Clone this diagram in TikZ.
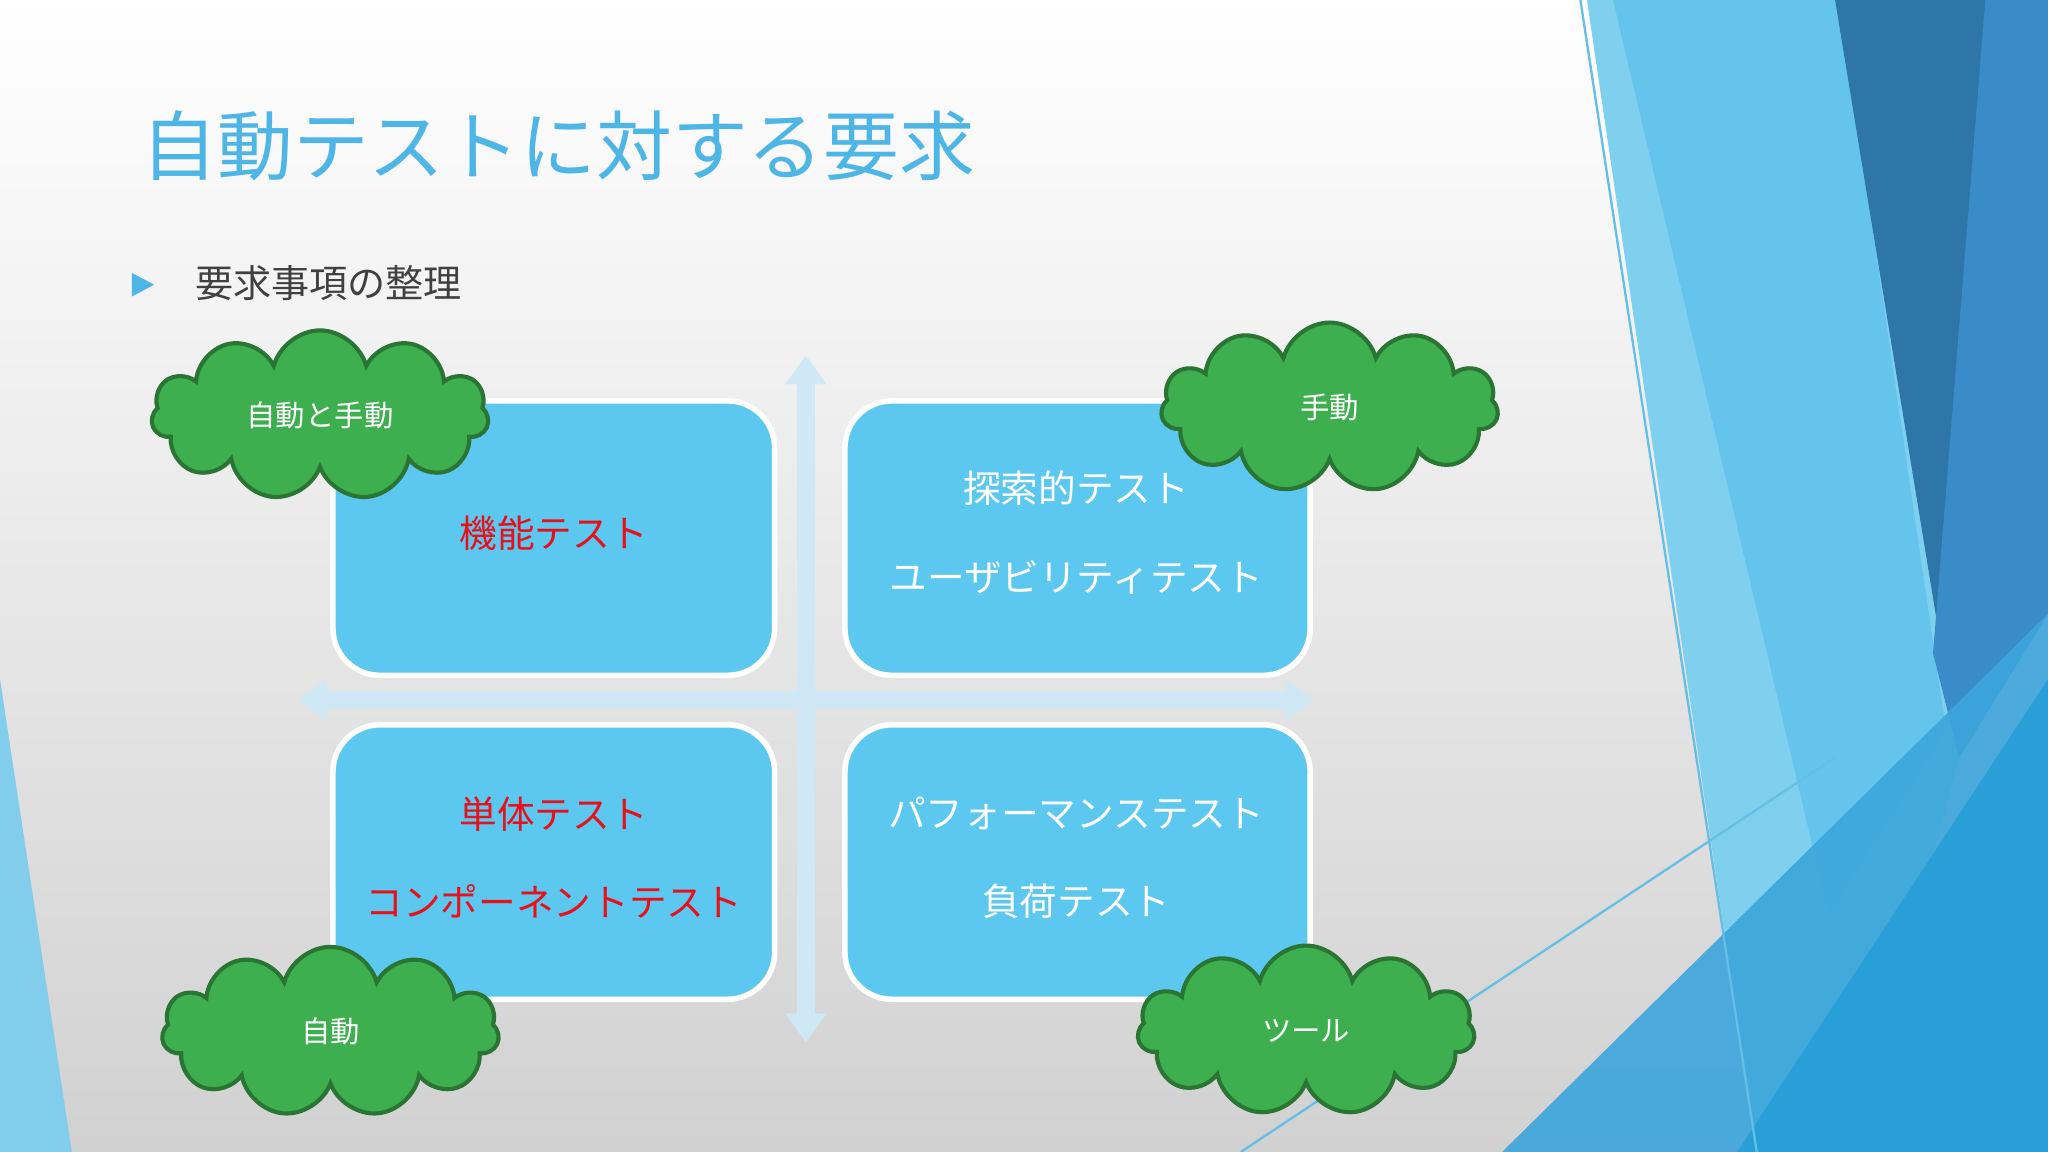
\documentclass[tikz,border=0pt]{standalone}
\usepackage{fontspec}
\setmainfont{Noto Sans CJK JP}
\usetikzlibrary{shapes.symbols,arrows.meta}
\definecolor{titleblue}{HTML}{4DB6E6}
\definecolor{boxblue}{HTML}{5CC8EF}
\definecolor{arrowpale}{HTML}{CFE8F5}
\definecolor{cloudgreen}{HTML}{3DAF4F}
\definecolor{cloudedge}{HTML}{2A7434}
\definecolor{redtext}{HTML}{E8101A}
\definecolor{decoA}{HTML}{7FD0EF}
\definecolor{decoB}{HTML}{64C4EC}
\definecolor{decoC}{HTML}{2E75A8}
\definecolor{decoD}{HTML}{3A8CC8}
\definecolor{decoE}{HTML}{3CA5DC}
\definecolor{decoF}{HTML}{28A0D7}
\definecolor{decoG}{HTML}{82CDEB}
\definecolor{decoL}{HTML}{64BEE6}
\tikzset{
  box/.style={draw=white,line width=1.2pt,fill=boxblue,rounded corners=0.36cm,minimum width=3.38cm,minimum height=2.1cm},
  lbl/.style={font=\fontsize{8.2}{10}\selectfont,text=white},
  rlbl/.style={font=\fontsize{8.2}{10}\selectfont,text=redtext},
  blob/.style={cloud,cloud puffs=11,cloud ignores aspect,draw=cloudedge,line width=0.9pt,fill=cloudgreen,minimum width=2.58cm,minimum height=1.3cm,text=white,font=\fontsize{6.4}{8}\selectfont},
  axis/.style={arrowpale,line width=0.14cm,{Triangle[width=0.3cm,length=0.22cm]}-{Triangle[width=0.3cm,length=0.22cm]}}
}
\begin{document}
\begin{tikzpicture}[x=0.01cm,y=-0.01cm]
\useasboundingbox (0,0) rectangle (1568,882);
\shade[top color=white,bottom color=black!18] (0,0) rectangle (1568,882);
% decorations
\fill[decoA] (1215,0) -- (1410,0) -- (1500,580) -- (1420,882) -- (1345,882) -- cycle;
\fill[decoB] (1235,0) -- (1408,0) -- (1490,560) -- (1400,700) -- cycle;
\fill[decoC] (1405,0) -- (1568,0) -- (1568,470) -- (1500,580) -- cycle;
\fill[decoD] (1520,0) -- (1568,0) -- (1568,470) -- (1500,580) -- (1480,500) -- cycle;
\fill[decoE,opacity=0.9] (1150,882) -- (1568,470) -- (1568,882) -- cycle;
\fill[decoF] (1330,882) -- (1568,520) -- (1568,882) -- cycle;
\fill[decoG] (0,520) -- (55,882) -- (0,882) -- cycle;
\draw[decoL,line width=0.5pt] (1210,0) -- (1345,882);
\draw[decoL,line width=0.5pt] (950,882) -- (1405,580);
% title
\node[anchor=west,text=titleblue,font=\fontsize{16.5}{20}\selectfont] (title) at (96,112) {自動テストに対する要求};
\fill[titleblue] (101,209) -- (118,218) -- (101,227) -- cycle;
\node[anchor=west,text=black!75,font=\fontsize{8.3}{10}\selectfont] (sub) at (137,217) {要求事項の整理};
% axes
\coordinate (vt) at (617,272); \coordinate (vb) at (617,798);
\coordinate (hl) at (228,536); \coordinate (hr) at (1006,536);
\draw[axis] (vt) -- (vb);
\draw[axis] (hl) -- (hr);
% boxes
\node[box] (tl) at (424,412) {};
\node[box,minimum width=3.56cm] (tr) at (825,412) {};
\node[box] (bl) at (424,660) {};
\node[box,minimum width=3.56cm] (br) at (825,660) {};
\node[rlbl] (t1) at (424,408) {機能テスト};
\node[lbl] (t2) at (824,374) {探索的テスト};
\node[lbl] (t3) at (824,442) {ユーザビリティテスト};
\node[rlbl] (t4) at (424,623) {単体テスト};
\node[rlbl] (t5) at (424,690) {コンポーネントテスト};
\node[lbl] (t6) at (824,623) {パフォーマンステスト};
\node[lbl] (t7) at (824,690) {負荷テスト};
% clouds
\node[blob] (c1) at (245,318) {自動と手動};
\node[blob] (c2) at (1018,312) {手動};
\node[blob] (c3) at (253,790) {自動};
\node[blob] (c4) at (1000,789) {ツール};
\end{tikzpicture}
\end{document}
